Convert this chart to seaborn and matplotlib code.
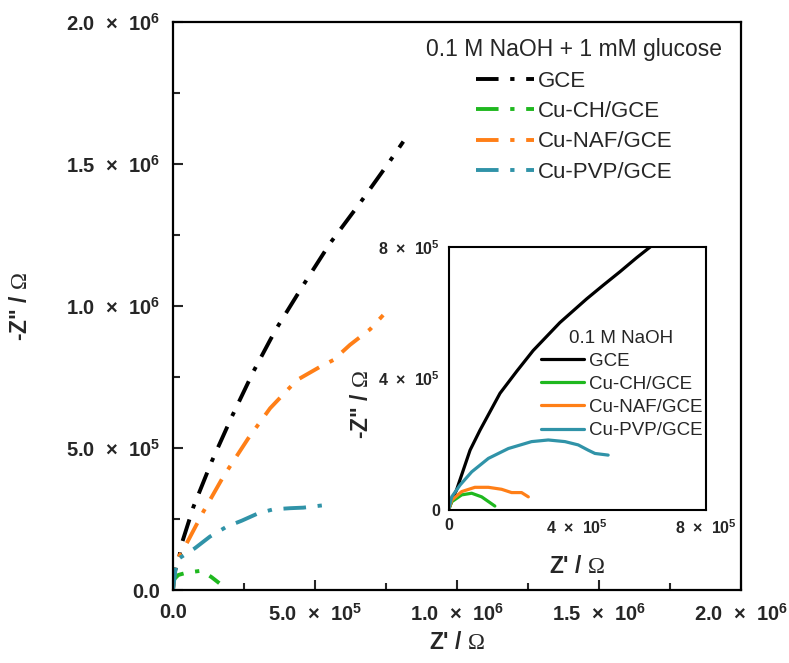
import numpy as np
import pandas as pd
import matplotlib
matplotlib.use("Agg")
import matplotlib.pyplot as plt
import seaborn as sns
from matplotlib.ticker import FuncFormatter, MultipleLocator
from matplotlib.lines import Line2D

sns.set_style("white")
plt.rcParams['font.family'] = ['Liberation Sans', 'DejaVu Sans']
plt.rcParams['font.weight'] = 'bold'
plt.rcParams['mathtext.fontset'] = 'custom'
plt.rcParams['mathtext.rm'] = 'Liberation Serif:weight=normal'
plt.rcParams['mathtext.bf'] = 'Liberation Sans:weight=bold'
plt.rcParams['mathtext.it'] = 'Liberation Sans:italic'

# ---- main plot data (0.1 M NaOH + 1 mM glucose), dash-dot ----
gce_x = [0, 0.05e5, 0.22e5, 0.31e5, 0.72e5, 1.36e5, 2.07e5, 2.83e5, 3.42e5, 3.65e5,
         4.59e5, 5.53e5, 6.58e5, 7.58e5, 8.11e5]
gce_y = [0, 0.6e5, 1.17e5, 1.64e5, 2.93e5, 4.52e5, 6.10e5, 7.69e5, 8.80e5, 9.22e5,
         1.074e6, 1.221e6, 1.362e6, 1.502e6, 1.579e6]
ch_x = [0, 0.01e5, 0.19e5, 0.48e5, 1.01e5, 1.36e5, 1.63e5]
ch_y = [0, 0.35e5, 0.53e5, 0.61e5, 0.68e5, 0.45e5, 0.24e5]
naf_x = [0, 0.07e5, 0.48e5, 1.07e5, 1.77e5, 2.65e5, 3.42e5, 4.36e5, 5.18e5, 5.65e5,
         6.23e5, 6.94e5, 7.40e5]
naf_y = [0, 0.94e5, 1.64e5, 2.76e5, 3.99e5, 5.34e5, 6.40e5, 7.39e5, 7.86e5, 8.10e5,
         8.63e5, 9.18e5, 9.68e5]
pvp_x = [0, 0.13e5, 0.77e5, 1.30e5, 1.89e5, 2.42e5, 3.00e5, 3.53e5, 4.12e5, 4.59e5, 5.35e5]
pvp_y = [0, 1.06e5, 1.47e5, 1.88e5, 2.23e5, 2.44e5, 2.70e5, 2.84e5, 2.88e5, 2.90e5, 2.99e5]

# ---- inset data (0.1 M NaOH), solid ----
igce_x = [0, 0.15e5, 0.25e5, 0.67e5, 0.98e5, 1.60e5, 2.12e5, 2.63e5, 3.46e5, 4.29e5,
          4.81e5, 5.33e5, 5.84e5, 6.33e5]
igce_y = [0, 0.40e5, 0.61e5, 1.82e5, 2.43e5, 3.55e5, 4.22e5, 4.85e5, 5.70e5, 6.42e5,
          6.84e5, 7.25e5, 7.67e5, 8.05e5]
ich_x = [0, 0.10e5, 0.41e5, 0.72e5, 1.03e5, 1.44e5]
ich_y = [0, 0.25e5, 0.46e5, 0.51e5, 0.40e5, 0.12e5]
inaf_x = [0, 0.10e5, 0.41e5, 0.82e5, 1.24e5, 1.65e5, 1.96e5, 2.27e5, 2.48e5]
inaf_y = [0, 0.30e5, 0.56e5, 0.69e5, 0.69e5, 0.63e5, 0.53e5, 0.53e5, 0.40e5]
ipvp_x = [0, 0.10e5, 0.36e5, 0.72e5, 1.24e5, 1.86e5, 2.58e5, 3.10e5, 3.62e5, 4.03e5,
          4.34e5, 4.55e5, 4.96e5]
ipvp_y = [0, 0.40e5, 0.76e5, 1.16e5, 1.57e5, 1.87e5, 2.08e5, 2.13e5, 2.08e5, 1.98e5,
          1.82e5, 1.72e5, 1.67e5]

labels = ["GCE", "Cu-CH/GCE", "Cu-NAF/GCE", "Cu-PVP/GCE"]
colors = ["#000000", "#1fb81f", "#ff7f17", "#3093a8"]

main_sets = [(gce_x, gce_y), (ch_x, ch_y), (naf_x, naf_y), (pvp_x, pvp_y)]
inset_sets = [(igce_x, igce_y), (ich_x, ich_y), (inaf_x, inaf_y), (ipvp_x, ipvp_y)]

def build(sets):
    frames = []
    for lab, (xs, ys) in zip(labels, sets):
        frames.append(pd.DataFrame({"x": xs, "y": ys, "s": lab}))
    return pd.concat(frames, ignore_index=True)

df_main = build(main_sets)
df_in = build(inset_sets)
pal = dict(zip(labels, colors))
DASH = (5.8, 3.0, 1.1, 3.0)
LW = 2.8

fig = plt.figure(figsize=(7.89, 6.63), dpi=100)
ax = fig.add_axes([173/789, 1 - 590/663, 568/789, 568/663])

sns.lineplot(data=df_main, x="x", y="y", hue="s", palette=pal, sort=False,
             estimator=None, ax=ax, lw=LW, legend=False)
for line in ax.lines:
    line.set_dashes(DASH)
    line.set_dash_capstyle('butt')

ax.set_xlim(0, 2e6)
ax.set_ylim(0, 2e6)

def sci_fmt(v, pos):
    if abs(v) < 1:
        return "0.0"
    if v < 0:
        return ""
    e = int(np.floor(np.log10(v)))
    m = v / 10**e
    return "%.1f  \u00d7  10$^{\\mathbf{%d}}$" % (m, e)

ax.xaxis.set_major_locator(MultipleLocator(5e5))
ax.yaxis.set_major_locator(MultipleLocator(5e5))
ax.xaxis.set_minor_locator(MultipleLocator(2.5e5))
ax.yaxis.set_minor_locator(MultipleLocator(2.5e5))
ax.xaxis.set_major_formatter(FuncFormatter(sci_fmt))
ax.yaxis.set_major_formatter(FuncFormatter(sci_fmt))
ax.tick_params(which='both', direction='in', top=False, right=False, bottom=True, left=True,
               width=1.5, labelsize=14.5)
ax.tick_params(which='major', length=7, pad=9)
ax.tick_params(which='minor', length=5)
for sp in ax.spines.values():
    sp.set_linewidth(1.6)
    sp.set_color('black')
ax.set_xlabel(r"Z' / $\Omega$", fontsize=16.5, fontweight='bold', labelpad=5)
ax.set_ylabel(r'-Z" / $\Omega$', fontsize=16.5, fontweight='bold', labelpad=25)

handles = [Line2D([], [], color=c, lw=LW, dashes=DASH, dash_capstyle='butt') for c in colors]
leg = ax.legend(handles, labels, title="0.1 M NaOH + 1 mM glucose", loc='upper right',
                frameon=False, prop={'size': 16, 'weight': 'normal'},
                title_fontproperties={'size': 16.5, 'weight': 'normal'}, handlelength=2.6,
                handletextpad=0.15, labelspacing=0.42, bbox_to_anchor=(0.975, 0.979),
                borderaxespad=0.0, borderpad=0.2)

# ---- inset ----
axi = fig.add_axes([448.5/789, 1 - 510/663, 257.5/789, 263/663])
sns.lineplot(data=df_in, x="x", y="y", hue="s", palette=pal, sort=False,
             estimator=None, ax=axi, lw=2.3, legend=False)
axi.set_xlim(0, 8e5)
axi.set_ylim(0, 8e5)

def sci_fmt2(v, pos):
    if abs(v) < 1:
        return "0"
    if v < 0:
        return ""
    e = int(np.floor(np.log10(v)))
    m = v / 10**e
    return "%d  \u00d7  10$^{\\mathbf{%d}}$" % (round(m), e)

axi.xaxis.set_major_locator(MultipleLocator(4e5))
axi.yaxis.set_major_locator(MultipleLocator(4e5))
axi.xaxis.set_minor_locator(MultipleLocator(2e5))
axi.yaxis.set_minor_locator(MultipleLocator(2e5))
axi.xaxis.set_major_formatter(FuncFormatter(sci_fmt2))
axi.yaxis.set_major_formatter(FuncFormatter(sci_fmt2))
axi.tick_params(which='both', direction='in', top=False, right=False, width=1.2, labelsize=11.5)
axi.tick_params(which='major', length=5, pad=6)
axi.tick_params(which='minor', length=4)
for sp in axi.spines.values():
    sp.set_linewidth(1.5)
    sp.set_color('black')
axi.set_xlabel(r"Z' / $\Omega$", fontsize=16.5, fontweight='bold', labelpad=13)
axi.set_ylabel(r'-Z" / $\Omega$', fontsize=16.5, fontweight='bold')
axi.yaxis.set_label_coords(-0.295, 0.40)

ihandles = [Line2D([], [], color=c, lw=2.3) for c in colors]
ileg = axi.legend(ihandles, labels, title="0.1 M NaOH", loc='upper right',
                  frameon=False, prop={'size': 13.5, 'weight': 'normal'},
                  title_fontproperties={'size': 13.5, 'weight': 'normal'}, handlelength=2.3,
                  handletextpad=0.25, labelspacing=0.32, bbox_to_anchor=(1.0, 0.70),
                  borderaxespad=0.0, borderpad=0.2)

fig.savefig("out.png", dpi=100)
